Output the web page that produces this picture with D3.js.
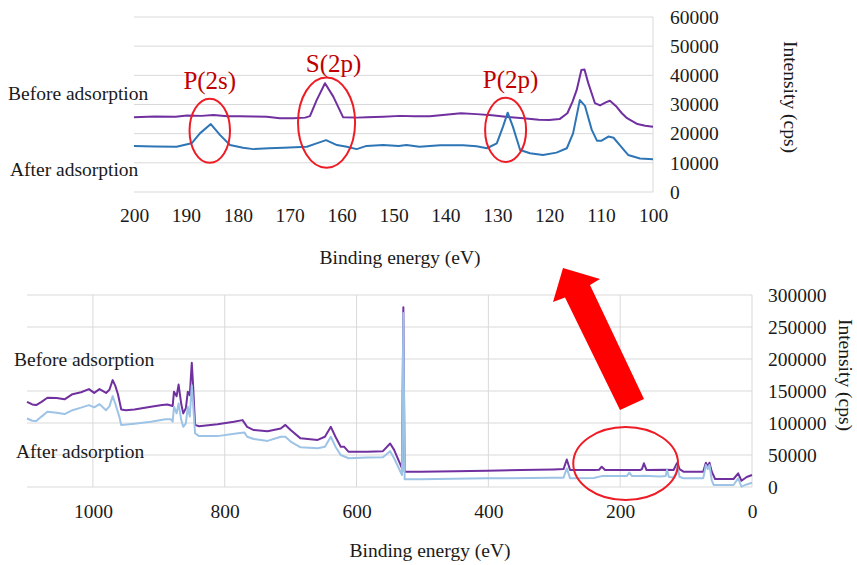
<!DOCTYPE html>
<html>
<head>
<meta charset="utf-8">
<script src="https://cdn.jsdelivr.net/npm/d3@7"></script>
<style>
  body { margin: 0; background: #fff; }
  svg text { font-family: 'Liberation Serif', 'Times New Roman', serif; }
</style>
</head>
<body>
<svg id="chart" width="857" height="565"></svg>
<script>
// top panel: zoom 200-100 eV
var topBeforeX = [200, 196, 192, 189.8, 187, 184.7, 182, 179.6, 177, 174.4, 171.9, 169.3, 167, 166.1, 164.8, 163.2, 161.6, 159.7, 157, 155.2, 152, 148.7, 146, 143, 140, 137, 134, 131, 128, 125, 122, 120, 118, 116.5, 115.5, 114.7, 113.8, 113.2, 112.5, 111.2, 110.2, 109, 108.3, 107, 106, 105, 103, 101.5, 100];
var topBeforeY = [25600, 25900, 25800, 26200, 26100, 26400, 26000, 26000, 25900, 25800, 25300, 25300, 25500, 26000, 31500, 37300, 32700, 25600, 25500, 25600, 25800, 26100, 26000, 26000, 26500, 27000, 26700, 26300, 25700, 25300, 24800, 24700, 25000, 27000, 31000, 35000, 41800, 42000, 37500, 30500, 29700, 30800, 31300, 29200, 27000, 25300, 23300, 22700, 22400];
var topAfterX = [200, 196, 191.8, 188.9, 187.3, 185.2, 183.4, 181.5, 179, 177, 174, 171.2, 166.7, 165.1, 163, 160.9, 159, 157.1, 155.2, 152, 149, 147.5, 145, 141, 136.6, 134, 132, 130.1, 128.9, 128, 127, 125.6, 123.7, 121.2, 118.6, 116.6, 115.4, 114.1, 113.1, 111.8, 110.8, 109.9, 108.6, 107.6, 106.4, 104.8, 102.5, 100];
var topAfterY = [15800, 15600, 15500, 16700, 20100, 23300, 19500, 16100, 15200, 14700, 15000, 15200, 15500, 16500, 17800, 16100, 15500, 14700, 15800, 16100, 15800, 16100, 15500, 16000, 16000, 15700, 15000, 16700, 22400, 27200, 22400, 14400, 13300, 12700, 13500, 15000, 20100, 31500, 29500, 21300, 17600, 17600, 19000, 18600, 16100, 12700, 11500, 11200];
var topXTicks = [200, 190, 180, 170, 160, 150, 140, 130, 120, 110, 100];
var topYTicks = [0, 10000, 20000, 30000, 40000, 50000, 60000];

// bottom panel: survey 1100-0 eV
var bottomBeforeX = [1100, 1092, 1086, 1078, 1069, 1055, 1043, 1031, 1018, 1006, 998, 990, 980, 975, 970, 966, 962, 957, 950, 937, 912, 895, 887, 879, 877, 873, 870, 866, 863, 859, 856, 853, 850, 848, 845, 839, 811, 786, 773, 766, 756, 735, 715, 708, 700, 685, 659, 648, 639, 632, 624, 619, 612, 584, 560, 549, 543, 531, 529, 527, 503, 450, 402, 350, 301, 286, 281, 276, 240, 232, 228, 223, 200, 170, 167, 164, 160, 130, 119, 115, 113, 110, 104, 74, 70, 67, 64.5, 61, 56, 28, 21, 16, 8, 0];
var bottomBeforeY = [133000, 129000, 128000, 133000, 139500, 139000, 137000, 145000, 148000, 153000, 147000, 153000, 147000, 152000, 167000, 158000, 145000, 121000, 120000, 121000, 125500, 128000, 129000, 126500, 149000, 142000, 160000, 130000, 115000, 123000, 149000, 143500, 194000, 159000, 97000, 95000, 98000, 102000, 104500, 94000, 89000, 87000, 91500, 97000, 89000, 76000, 73500, 78500, 94000, 78500, 63000, 63000, 55000, 55000, 56000, 68000, 58000, 29000, 281000, 24000, 24000, 24500, 25500, 26500, 27500, 28000, 43000, 26500, 26500, 27000, 31700, 26500, 26500, 26500, 28000, 37000, 26500, 27000, 26500, 35000, 38000, 28000, 24000, 24000, 38000, 31700, 38000, 24000, 12500, 12500, 21400, 9800, 15600, 18700];
var bottomAfterX = [1100, 1092, 1086, 1078, 1069, 1055, 1043, 1031, 1018, 1006, 998, 990, 980, 975, 970, 966, 960, 957, 937, 912, 890, 882, 879, 877, 873, 870, 866, 863, 859, 856, 853, 850, 848, 845, 839, 811, 780, 770, 766, 756, 735, 715, 708, 700, 685, 659, 648, 639, 632, 624, 612, 584, 560, 549, 543, 531, 529, 527, 503, 402, 301, 286, 281, 276, 240, 228, 200, 190, 186, 182, 170, 164, 140, 131, 129, 126, 119, 115, 113, 110, 104, 74, 70, 67, 64.5, 61, 58, 28, 21, 16, 8, 0];
var bottomAfterY = [107000, 103500, 103000, 110000, 117500, 116000, 114000, 120000, 124000, 128000, 124500, 129500, 120000, 126000, 142000, 130000, 110000, 97000, 99000, 102000, 106000, 106000, 102000, 125500, 115000, 130500, 105000, 94000, 99500, 125500, 110000, 159000, 130000, 84000, 79500, 79500, 84000, 85000, 78500, 75000, 72000, 78500, 78500, 71000, 62000, 60500, 63000, 78500, 63000, 50000, 45000, 46000, 46500, 56000, 45000, 18750, 272000, 12000, 12000, 13500, 14500, 14500, 29000, 13500, 14000, 17000, 17000, 17000, 22500, 17000, 17000, 17500, 16500, 17000, 26500, 15500, 15000, 22000, 33000, 16000, 13500, 13500, 34400, 28000, 34400, 10000, 3100, 3100, 13500, 500, 4000, 6700];
var bottomXTicks = [1000, 800, 600, 400, 200, 0];
var bottomYTicks = [0, 50000, 100000, 150000, 200000, 250000, 300000];

var svg = d3.select('#chart');
var grid = '#d9d9d9';
var fontSize = '19.5px';

function zip(xs, ys) {
    return xs.map(function(x, i) { return {x: x, y: ys[i]}; });
}

function drawPanel(opt) {
    var x = d3.scaleLinear().domain(opt.xDomain).range(opt.xRange);
    var y = d3.scaleLinear().domain(opt.yDomain).range(opt.yRange);
    var g = svg.append('g');

    // horizontal gridlines
    g.selectAll('.hgrid').data(opt.yTicks).enter().append('line')
        .attr('x1', opt.xRange[0]).attr('x2', opt.xRange[1])
        .attr('y1', d => y(d)).attr('y2', d => y(d))
        .attr('stroke', grid).attr('stroke-width', 1);

    if (opt.vgrid) {
        g.selectAll('.vgrid').data(opt.xTicks).enter().append('line')
            .attr('x1', d => x(d)).attr('x2', d => x(d))
            .attr('y1', opt.yRange[0]).attr('y2', opt.yRange[1])
            .attr('stroke', grid).attr('stroke-width', 1);
    } else {
        g.append('line')
            .attr('x1', opt.xRange[1]).attr('x2', opt.xRange[1])
            .attr('y1', opt.yRange[0]).attr('y2', opt.yRange[1])
            .attr('stroke', grid).attr('stroke-width', 1);
    }

    var xAxis = g.append('g').attr('transform', 'translate(0,' + opt.yRange[0] + ')')
        .call(d3.axisBottom(x).tickValues(opt.xTicks).tickSize(0).tickPadding(opt.xPad).tickFormat(d3.format('d')));
    var yAxis = g.append('g').attr('transform', 'translate(' + opt.xRange[1] + ',0)')
        .call(d3.axisRight(y).tickValues(opt.yTicks).tickSize(0).tickPadding(opt.yPad).tickFormat(d3.format('d')));
    [xAxis, yAxis].forEach(function(a) {
        a.select('.domain').remove();
        a.selectAll('text').attr('font-family', "'Liberation Serif', serif")
            .attr('font-size', fontSize).attr('fill', '#1a1a1a');
    });

    var line = d3.line().x(d => x(d.x)).y(d => y(d.y));
    opt.series.forEach(function(s) {
        g.append('path').datum(zip(s.xs, s.ys))
            .attr('d', line).attr('fill', 'none')
            .attr('stroke', s.color).attr('stroke-width', s.width)
            .attr('stroke-linejoin', 'round');
    });

    // red circles marking peaks
    (opt.rings || []).forEach(function(r) {
        g.append('ellipse')
            .attr('cx', x(r.cx)).attr('cy', y(r.cy))
            .attr('rx', Math.abs(x(r.cx + r.rx) - x(r.cx)))
            .attr('ry', Math.abs(y(r.cy + r.ry) - y(r.cy)))
            .attr('fill', 'none').attr('stroke', '#ee1c25').attr('stroke-width', 2);
        if (r.label) {
            g.append('text').attr('x', x(r.cx) + (r.dx || 0)).attr('y', r.ly)
                .attr('text-anchor', 'middle').attr('font-size', '25px')
                .attr('fill', '#c00000').text(r.label);
        }
    });

    // axis title and series labels
    g.append('text').attr('x', opt.xTitle[0]).attr('y', opt.xTitle[1])
        .attr('text-anchor', 'middle').attr('font-size', fontSize).attr('fill', '#1a1a1a')
        .text('Binding energy (eV)');
    g.append('text')
        .attr('transform', 'translate(' + opt.yTitle[0] + ',' + opt.yTitle[1] + ') rotate(90)')
        .attr('text-anchor', 'middle').attr('font-size', fontSize).attr('fill', '#1a1a1a')
        .text('Intensity (cps)');
    opt.labels.forEach(function(l) {
        g.append('text').attr('x', l[1]).attr('y', l[2])
            .attr('font-size', fontSize).attr('fill', '#1a1a1a').text(l[0]);
    });
}

drawPanel({
    xDomain: [200, 100], xRange: [134, 653],
    yDomain: [0, 60000], yRange: [192, 17],
    xTicks: topXTicks, yTicks: topYTicks,
    xPad: 16, yPad: 17, vgrid: false,
    series: [
        {xs: topBeforeX, ys: topBeforeY, color: '#7030a0', width: 2},
        {xs: topAfterX, ys: topAfterY, color: '#2e75b6', width: 2}
    ],
    rings: [
        {cx: 185.4, cy: 21000, rx: 3.9, ry: 11000, label: 'P(2s)', ly: 89},
        {cx: 162.9, cy: 23800, rx: 5.5, ry: 15500, label: 'S(2p)', ly: 72, dx: 7},
        {cx: 128.4, cy: 21300, rx: 3.95, ry: 11000, label: 'P(2p)', ly: 88, dx: 5}
    ],
    xTitle: [400, 264], yTitle: [784, 97],
    labels: [['Before adsorption', 8, 100], ['After adsorption', 10, 176]]
});

drawPanel({
    xDomain: [1100, 0], xRange: [27, 752],
    yDomain: [0, 300000], yRange: [487, 295],
    xTicks: bottomXTicks, yTicks: bottomYTicks,
    xPad: 17, yPad: 16, vgrid: true,
    series: [
        {xs: bottomBeforeX, ys: bottomBeforeY, color: '#7030a0', width: 2},
        {xs: bottomAfterX, ys: bottomAfterY, color: '#9dc3e6', width: 2}
    ],
    rings: [
        {cx: 191.7, cy: 36700, rx: 79.5, ry: 57000}
    ],
    xTitle: [430, 557], yTitle: [839, 375],
    labels: [['Before adsorption', 14, 366], ['After adsorption', 16, 458]]
});

// big red arrow pointing from the survey ring up to the zoomed panel
var arrow = [[563, 268], [600, 279], [590, 285], [644, 399], [620, 410], [565, 297.5], [553, 302]];
svg.append('polygon')
    .attr('points', arrow.map(p => p.join(',')).join(' '))
    .attr('fill', '#ff0000');
</script>
</body>
</html>
